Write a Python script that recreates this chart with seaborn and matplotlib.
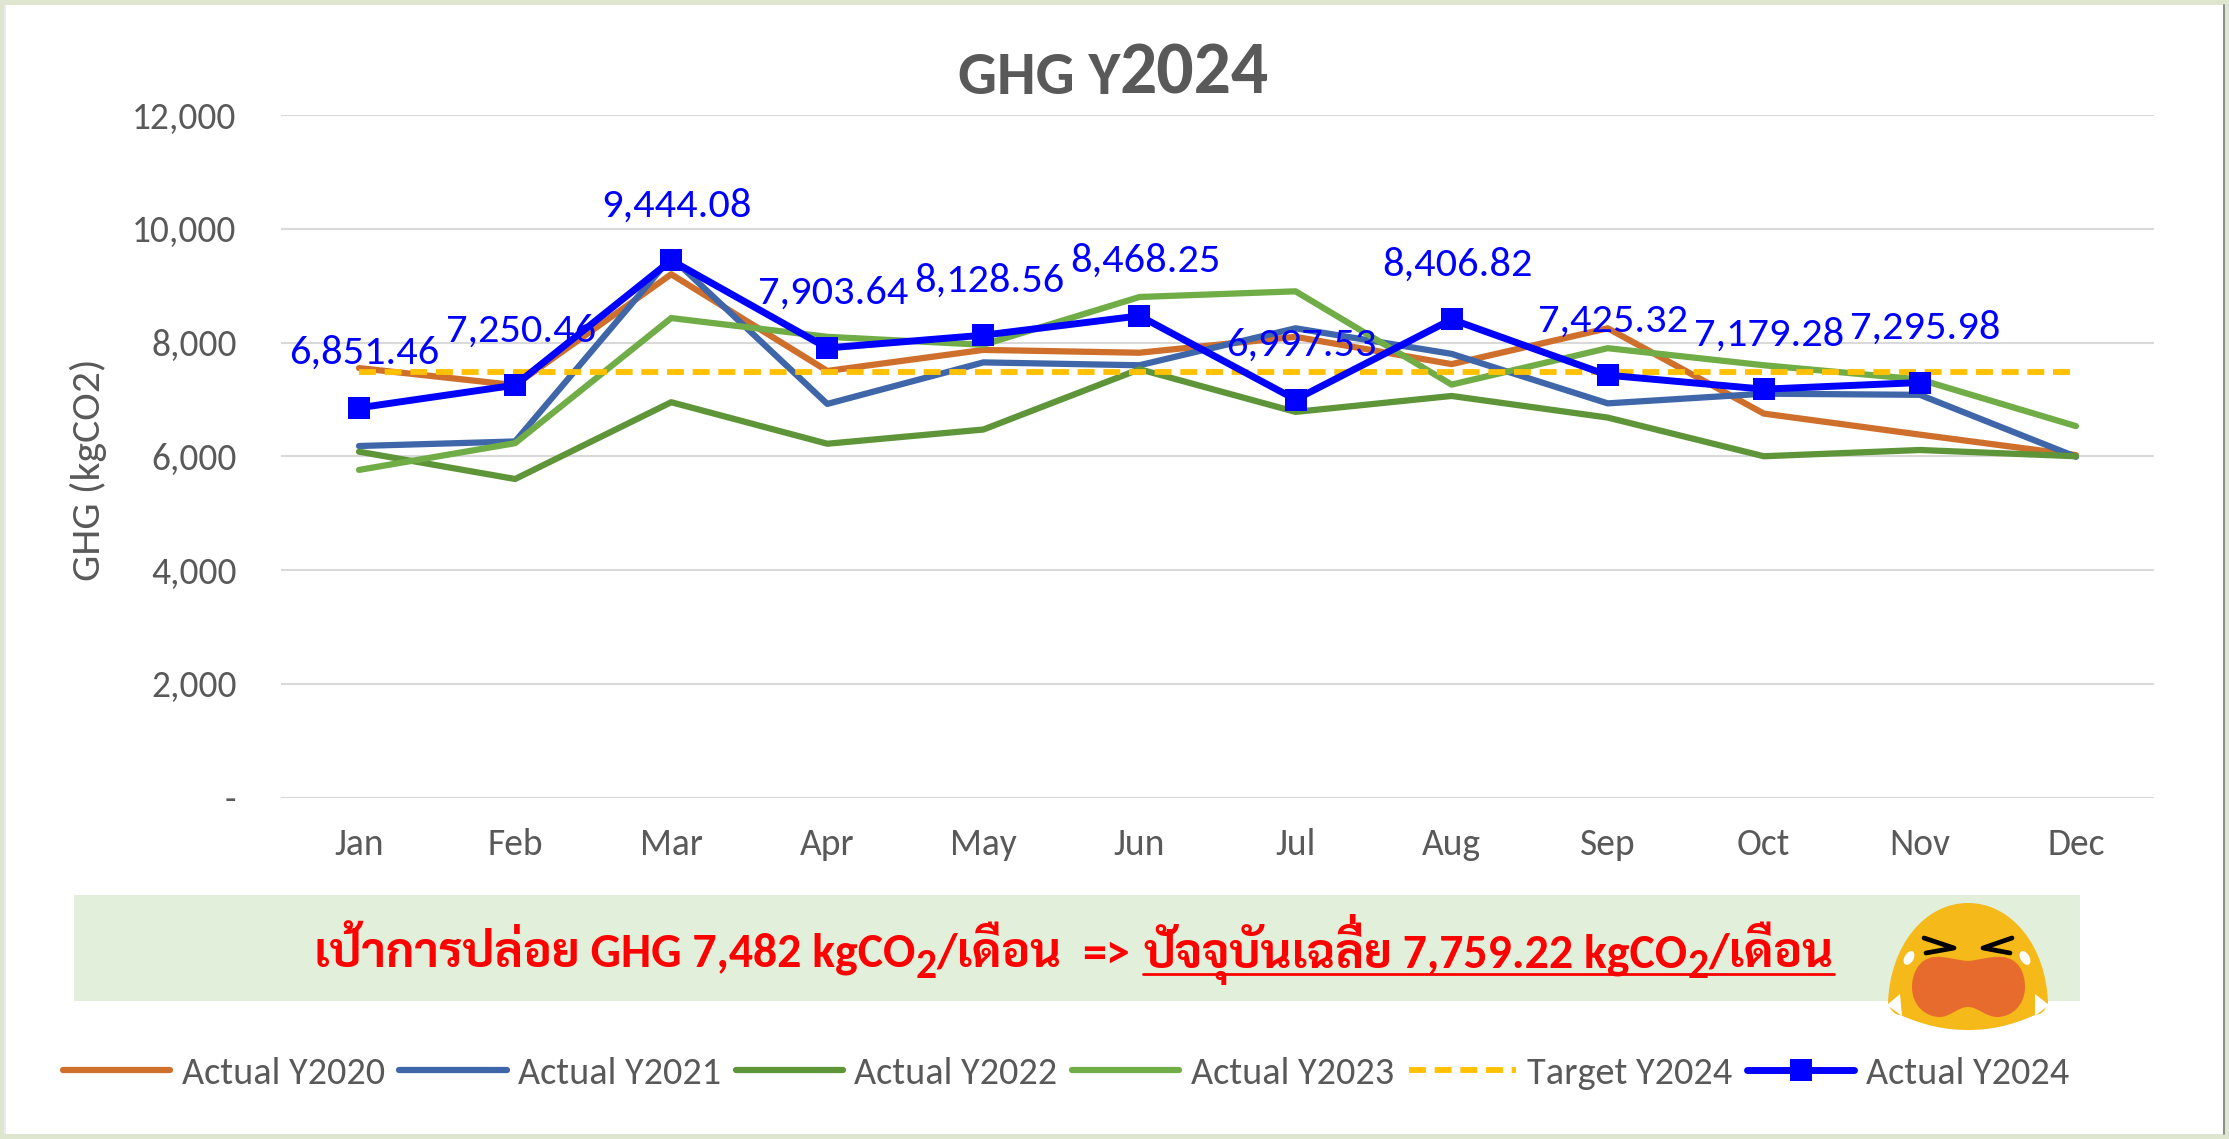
import matplotlib
matplotlib.use("Agg")
import matplotlib.pyplot as plt
import seaborn as sns
from matplotlib.patches import PathPatch, Rectangle, Ellipse, Polygon
from matplotlib.path import Path

W, H = 2229, 1139

months = ["Jan", "Feb", "Mar", "Apr", "May", "Jun", "Jul", "Aug", "Sep", "Oct", "Nov", "Dec"]
actual_2020 = [7550, 7250, 9200, 7500, 7870, 7820, 8100, 7620, 8250, 6750, 6380, 6020]
actual_2021 = [6180, 6260, 9500, 6920, 7650, 7600, 8250, 7800, 6930, 7100, 7080, 5990]
actual_2022 = [6080, 5600, 6950, 6220, 6470, 7530, 6780, 7060, 6680, 6000, 6110, 6000]
actual_2023 = [5760, 6230, 8430, 8100, 7960, 8800, 8900, 7260, 7900, 7600, 7350, 6530]
target_2024 = [7482] * 12
actual_2024 = [6851.46, 7250.46, 9444.08, 7903.64, 8128.56, 8468.25, 6997.53, 8406.82, 7425.32, 7179.28, 7295.98]
y_ticks = [0, 2000, 4000, 6000, 8000, 10000, 12000]
y_tick_labels = ["-", "2,000", "4,000", "6,000", "8,000", "10,000", "12,000"]

GRAY = "#595959"
LATIN = ["Carlito", "Noto Sans"]
THAI = ["Carlito", "Sarabun", "Noto Sans Thai", "DejaVu Sans"]

sns.set_theme(style="white")
plt.rcParams["font.family"] = LATIN

fig = plt.figure(figsize=(W / 100, H / 100), dpi=100, facecolor="#DFE6CF")

# pixel coordinate layer for frame, banner, title
bg = fig.add_axes([0, 0, 1, 1], zorder=0)
bg.set_xlim(0, W)
bg.set_ylim(H, 0)
bg.axis("off")
bg.add_patch(Rectangle((4, 5), 2219, 1129, fc="white", ec="none"))
bg.plot([2224, 2224], [5, 1134], color="#8C8C8C", lw=1.4)
bg.plot([4.5, 4.5], [5, 1134], color="#E8E8E8", lw=1.2)
bg.add_patch(Rectangle((74, 895), 2006, 106, fc="#E2EFDA", ec="none"))

bg.text(1120, 94, "GHG Y", ha="right", va="baseline", fontsize=44, fontweight="bold", color=GRAY)
bg.text(1120, 94, "2024", ha="left", va="baseline", fontsize=53, fontweight="bold", color=GRAY)

# banner text is laid out run by run because of the subscripts and the underline
# the mai ek over sara ii gets its own run, otherwise it lands inside the vowel
runs = [
    ("เป้าการปล่อย GHG 7,482 kgCO", 34.4, 0, False, 0),
    ("2", 30, 10, False, 0),
    ("/เดือน", 34.4, 0, False, 20),
    ("=>", 34.4, 0, False, 14),
    ("ปัจจุบันเฉลี", 34.4, 0, True, 0),
    ("\u00a0่", 34.4, -11, True, None),
    ("ย 7,759.22 kgCO", 34.4, 0, True, 0),
    ("2", 30, 10, True, 0),
    ("/เดือน", 34.4, 0, True, 0),
]
renderer = fig.canvas.get_renderer()
pos = 314
under_start = None
for txt, size, dy, under, gap in runs:
    # gap None: a mark that sits over the end of the previous run, takes no room
    x = pos - 16 if gap is None else pos
    t = bg.text(x, 968 + dy, txt, ha="left", va="baseline", fontsize=size, fontweight="bold",
                color="#FF0000", family=THAI)
    if under and under_start is None:
        under_start = pos
    if gap is not None:
        pos += t.get_window_extent(renderer).width + gap
bg.plot([under_start, pos], [974, 974], color="#FF0000", lw=2)

# crying face
C = Path.CURVE4
head = [(1888, 1003), (1890, 945), (1925, 903), (1968, 903), (2011, 903), (2046, 945), (2048, 1003),
        (2045, 1012), (2040, 1015), (2035, 1015), (2010, 1026), (1990, 1030), (1968, 1030),
        (1946, 1030), (1926, 1026), (1900, 1015), (1895, 1015), (1890, 1010), (1888, 1003)]
bg.add_patch(PathPatch(Path(head, [Path.MOVETO] + [C] * 18), fc="#F5B91A", ec="none"))
mouth = [(1968, 961), (1955, 960), (1945, 956), (1935, 957), (1918, 958), (1912, 975), (1912, 987),
         (1912, 1005), (1925, 1017), (1940, 1017), (1950, 1017), (1958, 1007), (1968, 1007),
         (1978, 1007), (1986, 1017), (1997, 1017), (2012, 1017), (2025, 1005), (2025, 987),
         (2025, 972), (2018, 958), (2002, 957), (1990, 956), (1980, 960), (1968, 961)]
bg.add_patch(PathPatch(Path(mouth, [Path.MOVETO] + [C] * 24), fc="#E66B2D", ec="none"))
bg.plot([1924, 1954, 1926], [938, 948, 953], color="black", lw=3.4, solid_capstyle="round", solid_joinstyle="round")
bg.plot([2012, 1983, 2010], [938, 948, 953], color="black", lw=3.4, solid_capstyle="round", solid_joinstyle="round")
bg.add_patch(Ellipse((1909, 958), 9, 15, angle=30, fc="white", ec="none"))
bg.add_patch(Ellipse((2025, 958), 9, 15, angle=-30, fc="white", ec="none"))
bg.add_patch(Polygon([(1887, 1005), (1900, 994), (1902, 1016)], fc="white", ec="none"))
bg.add_patch(Polygon([(2049, 1005), (2035, 994), (2035, 1016)], fc="white", ec="none"))

# chart
ax = fig.add_axes([281 / W, 1 - 797.5 / H, 1873 / W, 682.5 / H], zorder=1)
ax.patch.set_alpha(0)

series = [
    ("Actual Y2020", actual_2020, "#CF6F2C"),
    ("Actual Y2021", actual_2021, "#3F66A8"),
    ("Actual Y2022", actual_2022, "#5F9539"),
    ("Actual Y2023", actual_2023, "#70AD47"),
]
for name, values, col in series:
    sns.lineplot(x=months, y=values, color=col, linewidth=4.5, sort=False, label=name, ax=ax)
sns.lineplot(x=months, y=target_2024, color="#FFC000", linewidth=4.2, sort=False, label="Target Y2024",
             linestyle=(0, (2.9, 1.5)), dash_capstyle="butt", ax=ax)
sns.lineplot(x=months[:len(actual_2024)], y=actual_2024, color="#0000FF", linewidth=5, sort=False,
             marker="s", markersize=15.5, markeredgewidth=0, label="Actual Y2024", ax=ax)

for i, v in enumerate(actual_2024):
    ax.annotate(f"{v:,.2f}", (i, v), xytext=(4, 39.5), textcoords="offset points", ha="center", va="center",
                fontsize=30.5, color="#0000FF", zorder=10)

ax.set_xlim(-0.5, 11.5)
ax.set_ylim(0, 12000)
ax.set_yticks(y_ticks)
ax.set_yticklabels(y_tick_labels)
ax.grid(axis="y", color="#D9D9D9", lw=1.5)
ax.grid(axis="x", visible=False)
ax.set_axisbelow(True)
sns.despine(ax=ax, left=True, bottom=True)
ax.tick_params(axis="y", length=0, pad=32, labelsize=27, labelcolor=GRAY)
ax.tick_params(axis="x", length=0, pad=22, labelsize=27, labelcolor=GRAY)
ax.set_xlabel("")
ax.set_ylabel("GHG (kgCO2)", fontsize=30, color=GRAY)
ax.yaxis.set_label_coords(-0.093, 1 - (470 - 115) / 682.5)

handles, labels = ax.get_legend_handles_labels()
ax.get_legend().remove()
fig.legend(handles, labels, ncol=6, loc="center", bbox_to_anchor=(1066 / W, 1 - 1073 / H), frameon=False,
           fontsize=27.5, labelcolor=GRAY, handlelength=2.81, handletextpad=0.3, columnspacing=0.38,
           borderpad=0, borderaxespad=0)

fig.savefig("out.png", dpi=100, facecolor=fig.get_facecolor())
